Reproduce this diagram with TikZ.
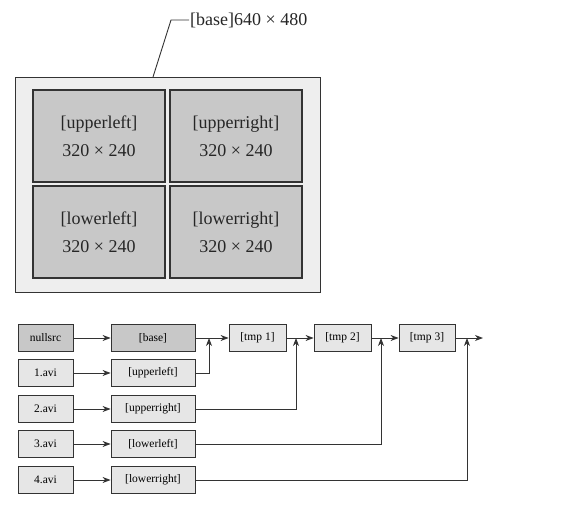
\documentclass[tikz,border=0pt]{standalone}
\usepackage{fontspec}
\setmainfont{Liberation Serif}
\usetikzlibrary{arrows.meta}
\definecolor{tilegray}{HTML}{C8C8C8}
\definecolor{framegray}{HTML}{EEEEEE}
\definecolor{boxgray}{HTML}{E6E6E6}
\definecolor{edge}{HTML}{333333}
\tikzset{
  frame/.style={draw=edge, line width=0.8pt, fill=framegray, minimum width=305pt, minimum height=215pt},
  tile/.style={draw=edge, line width=1.4pt, fill=tilegray, minimum width=132pt, minimum height=92pt,
    align=center, inner sep=0pt, text=black!85, font=\fontsize{18}{28}\selectfont},
  stage/.style={draw=edge, line width=0.8pt, fill=boxgray, minimum height=27pt, inner sep=0pt,
    font=\fontsize{11.5}{12}\selectfont},
  wire/.style={line width=0.9pt, draw=edge},
}
\begin{document}
\begin{tikzpicture}[x=1pt,y=-1pt,>={Stealth[length=8pt,width=6pt,inset=2.5pt]}]
\useasboundingbox (0,0) rectangle (568,512);
%%%% frame and tiles
\node[frame] (base) at (167.5,184.5) {};
\node[tile] (ul) at (99,136) {[upperleft]\\320 × 240};
\node[tile] (ur) at (236,136) {[upperright]\\320 × 240};
\node[tile] (ll) at (99,232) {[lowerleft]\\320 × 240};
\node[tile] (lr) at (236,232) {[lowerright]\\320 × 240};
%
\coordinate (k) at (153,77);
\coordinate (bend) at (171,20);
\node[anchor=west, inner sep=1pt, text=black!85, font=\fontsize{18}{20}\selectfont] (lab) at (189,20) {[base]640 × 480};
\draw[wire] (k)--(bend)--(lab.west);
%%%% filter graph
\node[stage, minimum width=55pt, fill=tilegray] (nul) at (45.5,338) {nullsrc};
\node[stage, minimum width=55pt] (a1) at (45.5,373) {1.avi};
\node[stage, minimum width=55pt] (a2) at (45.5,409) {2.avi};
\node[stage, minimum width=55pt] (a3) at (45.5,444) {3.avi};
\node[stage, minimum width=55pt] (a4) at (45.5,480) {4.avi};
%
\node[stage, minimum width=84pt, fill=tilegray] (b) at (153,338) {[base]};
\node[stage, minimum width=84pt] (bul) at (153,373) {[upperleft]};
\node[stage, minimum width=84pt] (bur) at (153,409) {[upperright]};
\node[stage, minimum width=84pt] (bll) at (153,444) {[lowerleft]};
\node[stage, minimum width=84pt] (blr) at (153,480) {[lowerright]};
%
\node[stage, minimum width=57pt] (t1) at (257.5,338) {[tmp 1]};
\node[stage, minimum width=57pt] (t2) at (342.5,338) {[tmp 2]};
\node[stage, minimum width=56pt] (t3) at (427,338) {[tmp 3]};
%
\coordinate (j1) at (209,338);
\coordinate (j2) at (296,338);
\coordinate (j3) at (381,338);
\coordinate (j4) at (467,338);
\coordinate (out) at (483,338);
%
\draw[wire,->] (nul)--(b);
\draw[wire,->] (a1)--(bul);
\draw[wire,->] (a2)--(bur);
\draw[wire,->] (a3)--(bll);
\draw[wire,->] (a4)--(blr);
%
\draw[wire,->] (b)--(t1);
\draw[wire,->] (t1)--(t2);
\draw[wire,->] (t2)--(t3);
\draw[wire,->] (t3)--(out);
%%% overlay inputs
\draw[wire,->] (bul.east)-|(j1);
\draw[wire,->] (bur.east)-|(j2);
\draw[wire,->] (bll.east)-|(j3);
\draw[wire,->] (blr.east)-|(j4);
\end{tikzpicture}
\end{document}
